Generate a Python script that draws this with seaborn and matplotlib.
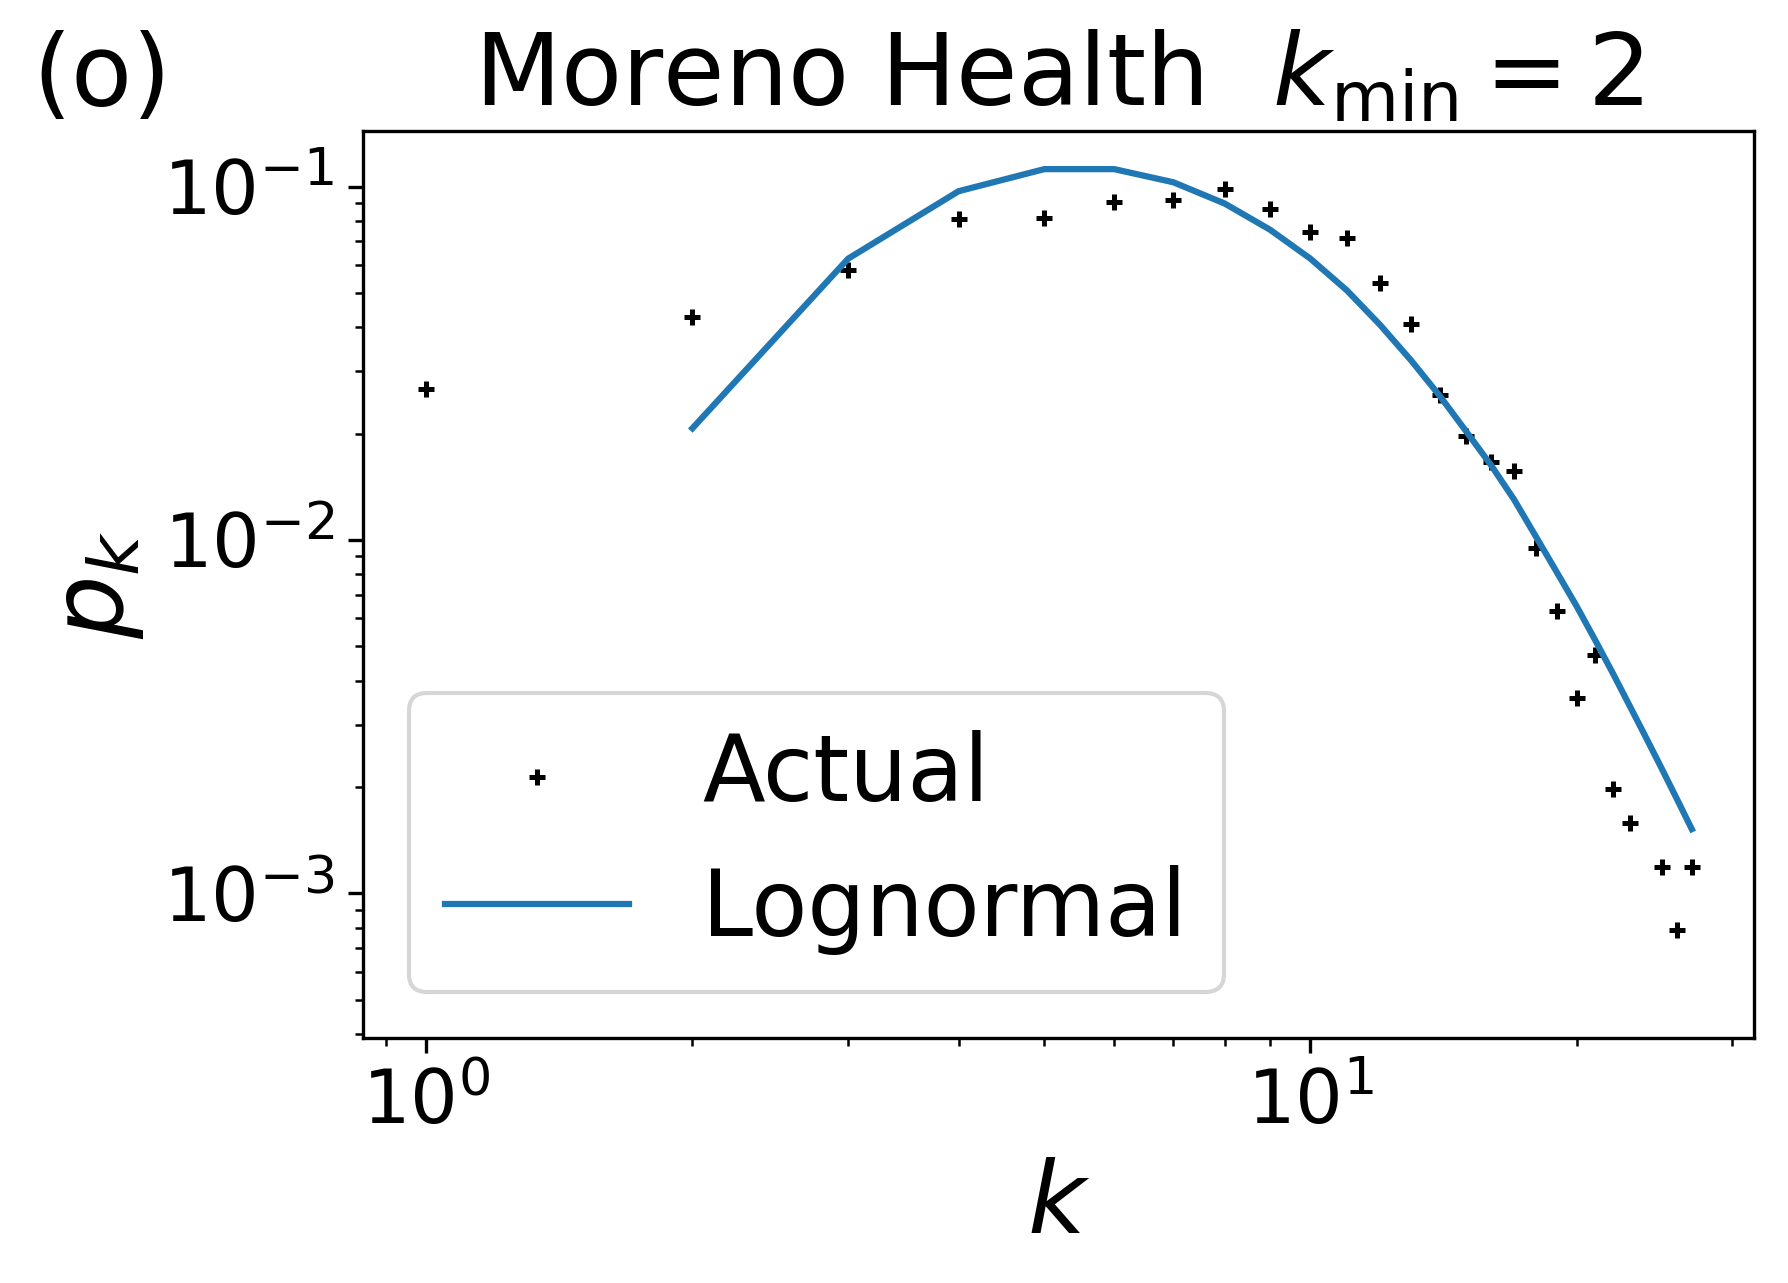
import matplotlib
matplotlib.use("Agg")
import matplotlib.pyplot as plt
import seaborn as sns

# degree values and observed fractions (k=24 absent)
k_actual = [1, 2, 3, 4, 5, 6, 7, 8, 9, 10, 11, 12, 13, 14, 15, 16, 17, 18, 19,
            20, 21, 22, 23, 25, 26, 27]
p_actual = [0.0267, 0.0427, 0.0582, 0.0811, 0.0815, 0.0906, 0.0915, 0.0983,
            0.0863, 0.0744, 0.0715, 0.0534, 0.0409, 0.0257, 0.0197, 0.0166,
            0.0157, 0.0095, 0.0063, 0.00357, 0.00472, 0.00198, 0.00158,
            0.00119, 0.00079, 0.00119]

# fitted lognormal curve
k_fit = list(range(2, 28))
p_fit = [0.0207, 0.0625, 0.0970, 0.1120, 0.1120, 0.1028, 0.0895, 0.0755,
         0.0625, 0.0508, 0.0405, 0.0322, 0.0256, 0.0203, 0.0163, 0.0130,
         0.0102, 0.0081, 0.0065, 0.0052, 0.00418, 0.00337, 0.00274, 0.00224,
         0.00184, 0.00152]

fig = plt.figure(figsize=(5.96, 4.2767), dpi=300)
ax = fig.add_axes([0.2030, 0.1910, 0.7780, 0.7069])

sns.scatterplot(x=k_actual, y=p_actual, marker="+", s=16, color="black",
                linewidth=1.2, label="Actual", ax=ax)
sns.lineplot(x=k_fit, y=p_fit, color="#1f77b4", linewidth=1.5,
             label="Lognormal", ax=ax)

ax.set_xscale("log")
ax.set_yscale("log")
ax.set_xlim(0.848, 31.75)
ax.set_ylim(3.9e-4, 0.1436)

ax.set_xlabel("$k$", fontsize=24)
ax.set_ylabel("$p_k$", fontsize=24)
ax.set_title(r"Moreno Health  $k_{\rm min} = 2$", fontsize=24)
ax.tick_params(axis="both", which="major", labelsize=18)

ax.legend(loc="lower left", fontsize=22)

fig.text(0.0179, 0.9174, "(o)", fontsize=24, ha="left", va="baseline")

fig.savefig("out.png", dpi=300)
